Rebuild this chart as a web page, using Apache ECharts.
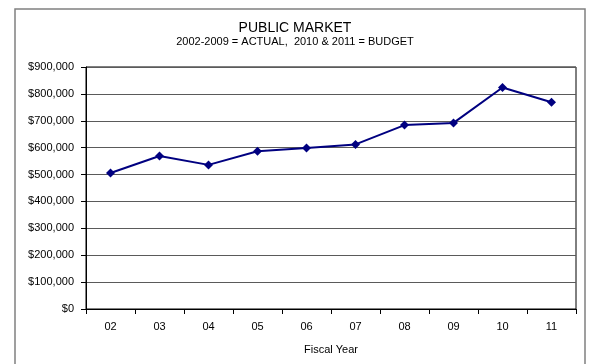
<!DOCTYPE html>
<html>
<head>
<meta charset="utf-8">
<script src="https://cdn.jsdelivr.net/npm/echarts@6/dist/echarts.min.js"></script>
<style>
  html, body { margin: 0; padding: 0; background: #fff; }
  #chart { width: 590px; height: 364px; }
</style>
</head>
<body>
<div id="chart"></div>
<script>
// Fiscal years (two-digit) and public market revenue in dollars
const fiscalYears = ['02', '03', '04', '05', '06', '07', '08', '09', '10', '11'];
const revenue = [506000, 569000, 536000, 587000, 599000, 612000, 684000, 692000, 824000, 769000];
const yTicks = { min: 0, max: 900000, step: 100000 };

const chart = echarts.init(document.getElementById('chart'), null, { renderer: 'canvas' });

const font = 'Arial, "Liberation Sans", sans-serif';

chart.setOption({
  animation: false,
  backgroundColor: '#fff',
  title: {
    text: 'PUBLIC MARKET',
    subtext: '2002-2009 = ACTUAL,  2010 & 2011 = BUDGET',
    left: 'center',
    top: 16,
    itemGap: 1,
    textStyle: { fontFamily: font, fontSize: 14, fontWeight: 'normal', color: '#000' },
    subtextStyle: { fontFamily: font, fontSize: 11, color: '#000' }
  },
  graphic: [{
    type: 'rect',
    silent: true,
    shape: { x: 15, y: 9, width: 570, height: 400 },
    style: { fill: 'none', stroke: '#808080', lineWidth: 1.5 }
  }],
  grid: {
    left: 86, right: 14, top: 67, bottom: 55,
    show: true, borderColor: '#000', borderWidth: 1, backgroundColor: 'transparent'
  },
  xAxis: {
    type: 'category',
    data: fiscalYears,
    boundaryGap: true,
    name: 'Fiscal Year',
    nameLocation: 'middle',
    nameGap: 35,
    nameTextStyle: { fontFamily: font, fontSize: 11, color: '#000' },
    axisLine: { lineStyle: { color: '#000', width: 1 } },
    axisTick: { show: true, alignWithLabel: false, length: 5, lineStyle: { color: '#000' } },
    axisLabel: { fontFamily: font, fontSize: 11, color: '#000', margin: 12 },
    splitLine: { show: false }
  },
  yAxis: {
    type: 'value',
    min: yTicks.min,
    max: yTicks.max,
    interval: yTicks.step,
    axisLine: { show: true, lineStyle: { color: '#000', width: 1 } },
    axisTick: { show: true, length: 5, lineStyle: { color: '#000' } },
    axisLabel: {
      fontFamily: font, fontSize: 11, color: '#000', margin: 12,
      formatter: v => '$' + v.toLocaleString('en-US')
    },
    splitLine: { show: true, lineStyle: { color: '#5a5a5a', width: 1 } }
  },
  series: [{
    type: 'line',
    data: revenue,
    symbol: 'diamond',
    symbolSize: 9,
    lineStyle: { color: '#000080', width: 2 },
    itemStyle: { color: '#000080' }
  }]
});
</script>
</body>
</html>
